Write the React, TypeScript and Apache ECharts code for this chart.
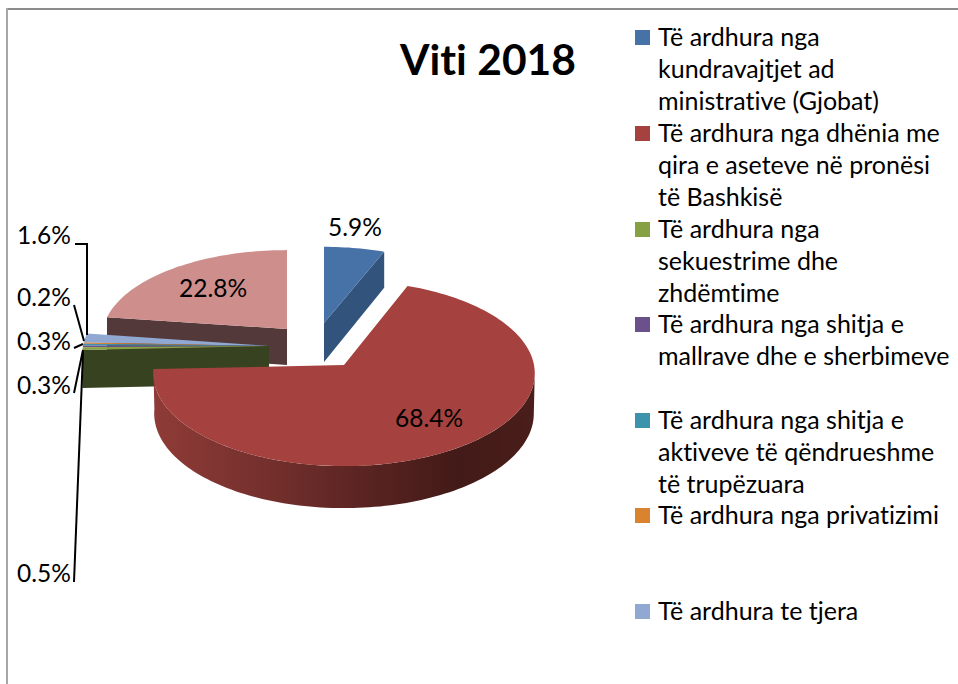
import React, { useEffect, useRef } from "react";
import * as echarts from "echarts";

const chartTitle = "Viti 2018";
const categories = [
  "Të ardhura nga kundravajtjet ad ministrative (Gjobat)",
  "Të ardhura nga dhënia me qira e aseteve në pronësi të Bashkisë",
  "Të ardhura nga sekuestrime dhe zhdëmtime",
  "Të ardhura nga shitja e mallrave dhe e sherbimeve",
  "Të ardhura nga shitja e aktiveve të qëndrueshme të trupëzuara",
  "Të ardhura nga privatizimi",
  "Të ardhura te tjera",
  "",
];
const legendLines = [
  ["Të ardhura nga", "kundravajtjet ad", "ministrative (Gjobat)"],
  ["Të ardhura nga dhënia me", "qira e aseteve në pronësi", "të Bashkisë"],
  ["Të ardhura nga", "sekuestrime dhe", "zhdëmtime"],
  ["Të ardhura nga shitja e", "mallrave dhe e sherbimeve"],
  ["Të ardhura nga shitja e", "aktiveve të qëndrueshme", "të trupëzuara"],
  ["Të ardhura nga privatizimi"],
  ["Të ardhura te tjera"],
];
const values = [5.9, 68.4, 0.5, 0.3, 0.3, 0.2, 1.6, 22.8];
const topColors = ["#4672a8", "#a5423f", "#86a044", "#6a518c", "#3d93ab", "#d9822f", "#90a8d2", "#ce8e8c"];
const drawOrder = [7, 6, 5, 4, 3, 2, 0, 1];

const FONT = "Lato, Carlito, sans-serif";
const FS_LEGEND = 25;
const FS_LABEL = 24.5;
const K = 0.09;

const geom = (i: number) => {
  if (i === 0) return { ax: 324, ay: 323, rx: 180, ry: 83, depth: 38 };
  if (i === 1) return { ax: 344, ay: 365, rx: 190, ry: 92, depth: 40 };
  if (i === 7) return { ax: 287, ay: 329, rx: 184, ry: 86, depth: 36 };
  return { ax: 269, ay: 346, rx: 186, ry: 92, depth: 38 };
};

const labelPos: Record<number, { x: number; y: number; line?: number[][] }> = {
  0: { x: 355, y: 226 },
  1: { x: 429, y: 417 },
  7: { x: 213, y: 287 },
  6: { x: 44, y: 234, line: [[75, 244], [87, 244], [87, 335]] },
  5: { x: 44, y: 296, line: [[74, 305], [84, 341]] },
  4: { x: 44, y: 340, line: [[74, 348], [83, 344]] },
  3: { x: 44, y: 384, line: [[74, 393], [83, 350]] },
  2: { x: 44, y: 572, line: [[74, 582], [83, 352]] },
};

const legendTops = [36, 132, 228, 323, 419, 514, 610];
const LINE_H = 31.8;

const project = (g: any, deg: number, rxK = 1, ryK = 1, dz = 0) => {
  const t = (deg * Math.PI) / 180;
  const u = Math.sin(t);
  const v = Math.cos(t);
  const d = 1 + K * v;
  return [g.ax + (g.rx * rxK * u) / d, g.ay + dz - (g.ry * ryK * v) / d];
};

const arcPoints = (g: any, a: number, b: number, rxK = 1, ryK = 1, dz = 0) => {
  const pts: number[][] = [];
  const steps = Math.max(2, Math.ceil(Math.abs(b - a) / 1.5));
  for (let i = 0; i <= steps; i++) pts.push(project(g, a + ((b - a) * i) / steps, rxK, ryK, dz));
  return pts;
};

const starts: number[] = [];
values.reduce((acc, v, i) => {
  starts[i] = acc;
  return acc + v;
}, 0);

const sliceRender = (_: any, api: any) => {
  const idx = api.value(2);
  const a0 = (api.value(1) / 100) * 360;
  const a1 = a0 + (api.value(0) / 100) * 360;
  const g = geom(idx);
  const apex = [g.ax, g.ay];
  const children: any[] = [];
  const poly = (points: number[][], fill: any) =>
    children.push({ type: "polygon", shape: { points }, style: { fill, stroke: null } });

  if (idx === 1) {
    const top = arcPoints(g, 95, a1);
    const bottom = arcPoints(g, 95, a1, 0.995, 1.02, g.depth).reverse();
    poly(top.concat(bottom), new echarts.graphic.LinearGradient(0, 0, 1, 0, [
      { offset: 0, color: "#8f3b37" },
      { offset: 0.3, color: "#74302d" },
      { offset: 0.55, color: "#5a2422" },
      { offset: 0.8, color: "#421a17" },
      { offset: 1, color: "#4a1e1a" },
    ]));
  }
  if (idx === 0) {
    const p = project(g, a1);
    poly([apex, p, [p[0], p[1] + g.depth - 2], [apex[0], apex[1] + g.depth + 1]], "#31537c");
  }
  if (idx === 7) {
    const p = project(g, a0);
    poly([p, apex, [apex[0], apex[1] + g.depth], [p[0], p[1] + g.depth]], "#53393a");
  }
  if (idx === 2) {
    const p = project(g, a0);
    poly([p, apex, [apex[0], apex[1] + g.depth], [p[0], p[1] + g.depth]], "#374220");
  }
  poly([apex, ...arcPoints(g, a0, a1)], topColors[idx]);
  return { type: "group", children };
};

const labelRender = (_: any, api: any) => {
  const idx = api.value(2);
  const pos = labelPos[idx];
  const children: any[] = [];
  if (pos.line) {
    children.push({
      type: "polyline",
      shape: { points: pos.line },
      style: { stroke: "#000", lineWidth: 2, fill: null },
    });
  }
  children.push({
    type: "text",
    style: {
      x: pos.x,
      y: pos.y,
      text: api.value(0).toFixed(1) + "%",
      fill: "#000",
      fontFamily: FONT,
      fontSize: FS_LABEL,
      align: "center",
      verticalAlign: "middle",
    },
  });
  return { type: "group", children };
};

export default function App() {
  const ref = useRef<HTMLDivElement>(null);
  useEffect(() => {
    document.body.style.margin = "0";
    document.body.style.background = "#fff";
    const chart = echarts.init(ref.current!, null, { renderer: "svg" });
    const seriesData = drawOrder.map((i) => ({
      name: categories[i],
      value: [values[i], starts[i], i],
    }));
    const legendGraphics: any[] = [];
    legendLines.forEach((lines, i) => {
      legendGraphics.push({
        type: "rect",
        shape: { x: 635, y: legendTops[i] - 6, width: 15, height: 15 },
        style: { fill: topColors[i] },
      });
      lines.forEach((line, j) => {
        legendGraphics.push({
          type: "text",
          style: {
            x: 658,
            y: legendTops[i] + j * LINE_H,
            text: line,
            fill: "#000",
            fontFamily: FONT,
            fontSize: FS_LEGEND,
            align: "left",
            verticalAlign: "middle",
          },
        });
      });
    });
    chart.setOption({
      animation: false,
      backgroundColor: "#fff",
      title: {
        text: chartTitle,
        left: 400,
        top: 37,
        padding: 0,
        textStyle: { fontFamily: FONT, fontWeight: "bold", fontSize: 42.5, color: "#000" },
      },
      graphic: [
        { type: "rect", shape: { x: 6, y: 8, width: 952, height: 2 }, style: { fill: "#8c8c8c" } },
        { type: "rect", shape: { x: 6, y: 8, width: 2, height: 676 }, style: { fill: "#a6a6a6" } },
        ...legendGraphics,
      ],
      series: [
        { type: "custom", coordinateSystem: "none", renderItem: sliceRender, data: seriesData, silent: true, z: 2 },
        { type: "custom", coordinateSystem: "none", renderItem: labelRender, data: seriesData, silent: true, z: 3 },
      ],
    });
    return () => chart.dispose();
  }, []);
  return <div ref={ref} style={{ width: 958, height: 684, fontVariantLigatures: "none" }} />;
}
